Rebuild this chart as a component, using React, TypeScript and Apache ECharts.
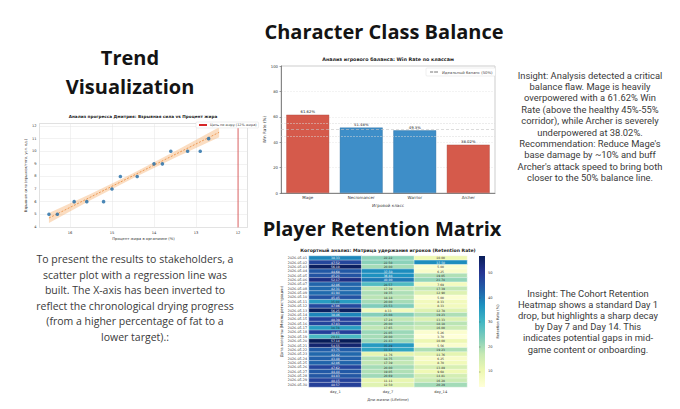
import React, { useEffect, useRef } from 'react';
import * as echarts from 'echarts';

// ---------- Scatter (trend) ----------
const fatPct = [16.5, 16.3, 15.9, 15.6, 15.2, 15.0, 14.8, 14.4, 14.0, 13.8, 13.6, 13.2, 12.9, 12.7];
const power = [5, 5, 6, 6, 6, 7, 8, 8, 9, 9, 10, 10, 10, 11];
const trendX = [16.5, 15.5, 14.5, 13.5, 12.45];
const trendY = [4.7, 6.38, 8.06, 9.74, 11.5];
const bandLow = [4.3, 6.13, 7.86, 9.49, 11.1];
const bandHigh = [5.1, 6.63, 8.26, 9.99, 11.9];
const targetFat = 12;
const targetName = 'Цель по жиру (12% жира)';

// ---------- Bar (class balance) ----------
const classes = ['Mage', 'Necromancer', 'Warrior', 'Archer'];
const winRates = [61.62, 51.48, 49.3, 38.02];
const balanceValue = 50;
const corridor = [45, 55];
const balanceName = 'Идеальный баланс (50%)';

// ---------- Heatmap (retention) ----------
const cohorts = [
  '2026-05-01', '2026-05-02', '2026-05-03', '2026-05-04', '2026-05-05', '2026-05-06',
  '2026-05-07', '2026-05-08', '2026-05-09', '2026-05-10', '2026-05-11', '2026-05-12',
  '2026-05-13', '2026-05-14', '2026-05-15', '2026-05-16', '2026-05-17', '2026-05-18',
  '2026-05-19', '2026-05-20', '2026-05-21', '2026-05-22', '2026-05-23', '2026-05-24',
  '2026-05-25', '2026-05-26', '2026-05-27', '2026-05-28', '2026-05-29', '2026-05-30',
];
const days = ['day_1', 'day_7', 'day_14'];
const day1 = [38.33, 47.52, 56.1, 44.68, 45.21, 52.17, 42.86, 42.31, 41.94, 45.45, 35.0, 47.06, 56.25, 38.46, 48.39,
  47.83, 34.78, 48.65, 29.41, 57.14, 54.55, 43.75, 42.42, 43.48, 42.86, 47.62, 44.44, 44.83, 48.15, 48.57];
const day7 = [22.22, 22.5, 20.0, 37.5, 36.84, 40.0, 28.57, 17.39, 19.35, 18.18, 20.0, 23.53, 8.33, 23.08, 17.24,
  20.0, 17.65, 21.05, 20.0, 21.43, 35.29, 33.33, 11.76, 18.75, 17.39, 20.0, 19.05, 20.69, 11.11, 12.5];
const day14 = [10.0, 37.5, 5.0, 6.25, 19.05, 21.74, 7.69, 17.39, 12.9, 5.0, 8.33, 8.33, 12.78, 19.23, 13.33,
  18.18, 16.0, 5.26, 3.7, 10.0, 5.56, 19.23, 11.76, 6.25, 8.7, 13.89, 9.68, 14.81, 16.28, 20.29];
const colorMin = 3.6;
const colorMax = 57;

const YlGnBu = ['#ffffd9', '#edf8b1', '#c7e9b4', '#7fcdbb', '#41b6c4', '#1d91c0', '#225ea8', '#253494', '#081d58'];

const FONT = '"Open Sans", "DejaVu Sans", sans-serif';
const BODY = 'Roboto, "Open Sans", sans-serif';
const MPL = '"DejaVu Sans", sans-serif';

export default function App() {
  const ref = useRef<HTMLDivElement>(null);
  useEffect(() => {
    if (!ref.current) return;
    const chart = echarts.init(ref.current, undefined, { renderer: 'svg' });

    const heatData: any[] = [];
    [day1, day7, day14].forEach((col, xi) => {
      col.forEach((v, yi) => {
        heatData.push({
          value: [xi, yi, v],
          label: { color: v > 36 ? '#ffffff' : '#333333' },
        });
      });
    });

    const tinyAxis = { fontSize: 3.6, color: '#333', fontFamily: MPL };

    const option: any = {
      animation: false,
      backgroundColor: '#ffffff',
      textStyle: { fontFamily: MPL },
      grid: [
        { left: 39.5, top: 123.5, width: 208, height: 104, show: true, borderColor: '#bbb', borderWidth: 0.5, backgroundColor: '#fff' },
        { left: 281, top: 66, width: 214, height: 127, show: true, borderColor: '#999', borderWidth: 0.5 },
        { left: 309, top: 256, width: 158, height: 131, show: false },
        {
          left: 479, top: 256, width: 6, height: 131, show: true, borderWidth: 0,
          backgroundColor: new echarts.graphic.LinearGradient(0, 0, 0, 1,
            YlGnBu.slice().reverse().map((c, i, arr) => ({ offset: i / (arr.length - 1), color: c }))),
        },
      ],
      xAxis: [
        {
          gridIndex: 0, type: 'value', inverse: true, min: 11.775, max: 16.725,
          axisLine: { show: false }, axisTick: { show: false },
          axisLabel: { ...tinyAxis, margin: 3, showMinLabel: false, showMaxLabel: false },
          splitLine: { show: true, lineStyle: { color: '#e4e4e4', width: 0.5 } },
          name: 'Процент жира в организме (%)', nameLocation: 'middle', nameGap: 9,
          nameTextStyle: { fontSize: 3.8, color: '#333' },
        },
        {
          gridIndex: 1, type: 'category', data: classes,
          axisLine: { lineStyle: { color: '#444', width: 0.6 } }, axisTick: { length: 1.5, lineStyle: { color: '#444', width: 0.5 } },
          axisLabel: { fontSize: 4, color: '#333', margin: 2.5 },
          name: 'Игровой класс', nameLocation: 'middle', nameGap: 10,
          nameTextStyle: { fontSize: 4.2, color: '#333' },
        },
        {
          gridIndex: 2, type: 'category', data: days, position: 'bottom',
          axisLine: { show: false }, axisTick: { length: 1.5, lineStyle: { color: '#444', width: 0.4 } },
          axisLabel: { fontSize: 3.6, color: '#333', margin: 2.5 },
          splitLine: { show: false },
          name: 'Дни жизни (Lifetime)', nameLocation: 'middle', nameGap: 10,
          nameTextStyle: { fontSize: 3.8, color: '#333' },
        },
        { gridIndex: 3, type: 'value', show: false, min: 0, max: 1 },
      ],
      yAxis: [
        {
          gridIndex: 0, type: 'value', min: 3.95, max: 12.2, splitNumber: 8,
          axisLine: { show: false }, axisTick: { show: false },
          axisLabel: { ...tinyAxis, margin: 3, showMinLabel: false, showMaxLabel: false },
          splitLine: { show: true, lineStyle: { color: '#e4e4e4', width: 0.5 } },
          name: 'Взрывная сила (прыжок/тяга, усл. ед.)', nameLocation: 'middle', nameGap: 11, nameRotate: 90,
          nameTextStyle: { fontSize: 3.6, color: '#333' },
        },
        {
          gridIndex: 1, type: 'value', min: 0, max: 100, interval: 20,
          axisLine: { show: true, lineStyle: { color: '#444', width: 0.6 } },
          axisTick: { show: true, length: 1.5, lineStyle: { color: '#444', width: 0.5 } },
          axisLabel: { fontSize: 3.8, color: '#333', margin: 3 },
          splitLine: { show: true, lineStyle: { color: '#e6e6e6', width: 0.5, type: 'dashed' } },
          name: 'Win Rate (%)', nameLocation: 'middle', nameGap: 13, nameRotate: 90,
          nameTextStyle: { fontSize: 4.2, color: '#333' },
        },
        {
          gridIndex: 2, type: 'category', data: cohorts, inverse: true,
          axisLine: { show: false }, axisTick: { length: 1.2, lineStyle: { color: '#555', width: 0.3 } },
          axisLabel: { fontSize: 3.3, color: '#333', fontFamily: MPL, margin: 2, interval: 0, textBorderWidth: 0 },
          name: 'Дата когорты (Месяц регистрации)', nameLocation: 'middle', nameGap: 19, nameRotate: 90,
          nameTextStyle: { fontSize: 3.8, color: '#333' },
        },
        {
          gridIndex: 3, type: 'value', min: colorMin, max: colorMax, position: 'right',
          axisLine: { show: false },
          axisTick: { show: true, length: 1.5, lineStyle: { color: '#444', width: 0.4 } },
          axisLabel: { fontSize: 3.6, color: '#333', margin: 3, showMinLabel: false, showMaxLabel: false },
          splitLine: { show: false },
          name: 'Retention Rate (%)', nameLocation: 'middle', nameGap: 11, nameRotate: 90,
          nameTextStyle: { fontSize: 3.6, color: '#333' },
        },
      ],
      legend: [
        {
          data: [{ name: targetName }], left: 196, top: 122, orient: 'vertical',
          itemWidth: 8, itemHeight: 2, itemGap: 2, padding: [1.5, 2],
          backgroundColor: '#fff', borderColor: '#ddd', borderWidth: 0.5, borderRadius: 1,
          textStyle: { fontSize: 3.4, color: '#333', padding: [0, 0, 0, -2] },
        },
        {
          data: [{ name: balanceName }], left: 426, top: 68, orient: 'vertical',
          itemWidth: 9, itemHeight: 2, padding: [2, 3],
          backgroundColor: '#fff', borderColor: '#ddd', borderWidth: 0.5, borderRadius: 1,
          textStyle: { fontSize: 3.8, color: '#444', padding: [0, 0, 0, -2] },
        },
      ],
      visualMap: {
        type: 'continuous', show: false, min: colorMin, max: colorMax, dimension: 2, seriesIndex: 6,
        inRange: { color: YlGnBu },
      },
      series: [
        // 0: confidence band
        {
          type: 'custom', xAxisIndex: 0, yAxisIndex: 0, silent: true, z: 1,
          data: trendX.map((x, i) => [x, bandLow[i], bandHigh[i]]),
          encode: { x: 0, y: [1, 2] },
          renderItem: (params: any, api: any) => {
            if (params.dataIndex !== 0) return null;
            const pts: number[][] = [];
            for (let i = 0; i < trendX.length; i++) pts.push(api.coord([trendX[i], bandHigh[i]]));
            for (let i = trendX.length - 1; i >= 0; i--) pts.push(api.coord([trendX[i], bandLow[i]]));
            return { type: 'polygon', shape: { points: pts }, style: { fill: 'rgba(246, 170, 100, 0.4)' } };
          },
        },
        // 1: regression line
        {
          type: 'line', xAxisIndex: 0, yAxisIndex: 0, symbol: 'none', z: 2,
          data: trendX.map((x, i) => [x, trendY[i]]),
          lineStyle: { color: '#e8893a', width: 0.8, type: [2, 1.5] },
        },
        // 2: scatter
        {
          type: 'scatter', xAxisIndex: 0, yAxisIndex: 0, symbolSize: 3.6, z: 3,
          data: fatPct.map((x, i) => [x, power[i]]),
          itemStyle: { color: '#1f6aa5' },
        },
        // 3: target line
        {
          name: targetName, type: 'line', xAxisIndex: 0, yAxisIndex: 0, symbol: 'none', z: 2,
          data: [[targetFat, 3.95], [targetFat, 12.2]],
          lineStyle: { color: '#d62728', width: 0.7 }, itemStyle: { color: '#d62728' },
        },
        // 4: bars
        {
          type: 'bar', xAxisIndex: 1, yAxisIndex: 1, barWidth: '80%', z: 2,
          data: winRates.map((v) => {
            const bad = v < corridor[0] || v > corridor[1];
            return {
              value: v,
              itemStyle: { color: bad ? '#d55a4b' : '#3e8ec8', borderColor: bad ? '#a8443a' : '#2f6f9f', borderWidth: 0.4 },
            };
          }),
          label: {
            show: true, position: 'top', distance: 1, fontSize: 3.8, color: '#222',
            formatter: (p: any) => `${p.value}%`,
          },
          markLine: {
            silent: true, symbol: 'none', label: { show: false },
            lineStyle: { color: '#d8d8d8', width: 0.5, type: 'dashed' },
            data: corridor.map((c) => ({ yAxis: c })),
          },
        },
        // 5: balance line (legend)
        {
          name: balanceName, type: 'line', xAxisIndex: 1, yAxisIndex: 1, data: [], symbol: 'none',
          lineStyle: { color: '#bbbbbb', width: 0.7, type: [3, 2] }, itemStyle: { color: '#bbbbbb' },
          markLine: {
            silent: true, symbol: 'none', label: { show: false },
            lineStyle: { color: '#c4c4c4', width: 0.6, type: [3, 2] },
            data: [{ yAxis: balanceValue }],
          },
        },
        // 6: heatmap
        {
          type: 'heatmap', xAxisIndex: 2, yAxisIndex: 2, data: heatData,
          itemStyle: { borderColor: '#ffffff', borderWidth: 0.4 },
          label: { show: true, fontSize: 3, formatter: (p: any) => p.value[2].toFixed(2) },
        },
      ],
      graphic: [
        // big headings
        { type: 'text', style: { text: 'Character Class Balance', x: 384, y: 31, textAlign: 'center', textVerticalAlign: 'middle', font: `bold 20px ${FONT}`, fill: '#141414' } },
        { type: 'text', style: { text: 'Trend\nVisualization', x: 130, y: 72, textAlign: 'center', textVerticalAlign: 'middle', font: `bold 20px ${FONT}`, lineHeight: 29, fill: '#141414' } },
        { type: 'text', style: { text: 'Player Retention Matrix', x: 382, y: 228, textAlign: 'center', textVerticalAlign: 'middle', font: `bold 20px ${FONT}`, fill: '#141414' } },
        // small chart titles
        { type: 'text', style: { text: 'Анализ прогресса Дмитрия: Взрывная сила vs Процент жира', x: 143, y: 116, textAlign: 'center', textVerticalAlign: 'middle', font: `bold 4.2px ${MPL}`, fill: '#222' } },
        { type: 'text', style: { text: 'Анализ игрового баланса: Win Rate по классам', x: 388, y: 59, textAlign: 'center', textVerticalAlign: 'middle', font: `bold 4.8px ${MPL}`, fill: '#222' } },
        { type: 'text', style: { text: 'Когортный анализ: Матрица удержания игроков (Retention Rate)', x: 388, y: 250, textAlign: 'center', textVerticalAlign: 'middle', font: `bold 4.6px ${MPL}`, fill: '#222' } },
        // paragraphs
        {
          type: 'text', style: {
            text: 'To present the results to stakeholders, a\nscatter plot with a regression line was\nbuilt. The X-axis has been inverted to\nreflect the chronological drying progress\n(from a higher percentage of fat to a\nlower target).:',
            x: 135, y: 251.5, textAlign: 'center', textVerticalAlign: 'top', font: `10.5px ${FONT}`, lineHeight: 15.5, fill: '#3a3a3a',
          },
        },
        {
          type: 'text', style: {
            text: "Insight: Analysis detected a critical\nbalance flaw. Mage is heavily\noverpowered with a 61.62% Win\nRate (above the healthy 45%-55%\ncorridor), while Archer is severely\nunderpowered at 38.02%.\nRecommendation: Reduce Mage's\nbase damage by ~10% and buff\nArcher's attack speed to bring both\ncloser to the 50% balance line.",
            x: 590, y: 69.3, textAlign: 'center', textVerticalAlign: 'top', font: `9.4px ${BODY}`, lineHeight: 11.4, fill: '#3a3a3a',
          },
        },
        {
          type: 'text', style: {
            text: 'Insight: The Cohort Retention\nHeatmap shows a standard Day 1\ndrop, but highlights a sharp decay\nby Day 7 and Day 14. This\nindicates potential gaps in mid-\ngame content or onboarding.',
            x: 588, y: 287.5, textAlign: 'center', textVerticalAlign: 'top', font: `9.4px ${BODY}`, lineHeight: 11.2, fill: '#3a3a3a',
          },
        },
      ],
    };

    chart.setOption(option);
    return () => chart.dispose();
  }, []);

  return (
    <div
      ref={ref}
      style={{ position: 'absolute', left: 0, top: 0, width: 680, height: 409, background: '#fff' }}
    />
  );
}
